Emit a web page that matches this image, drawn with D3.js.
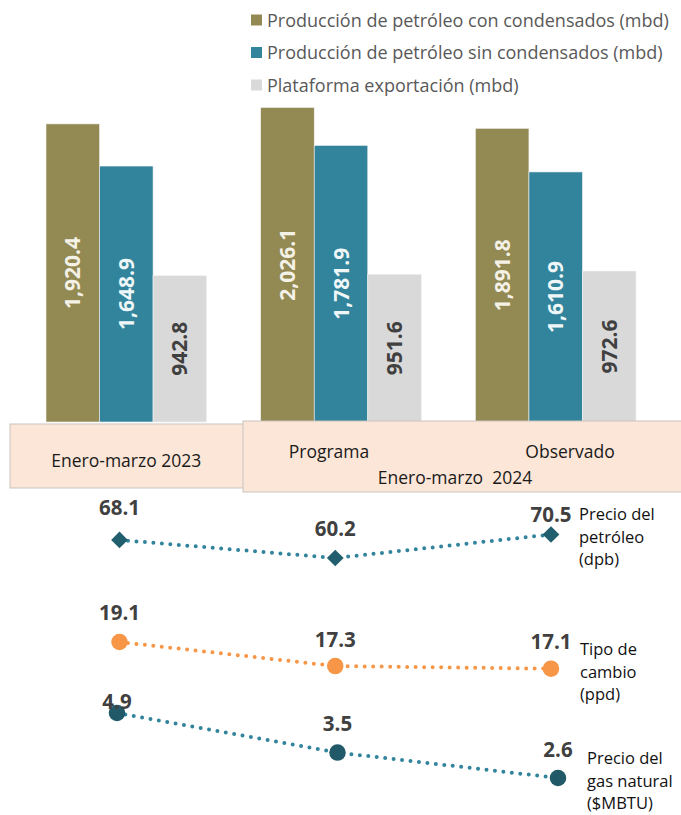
<!DOCTYPE html>
<html lang="es">
<head>
<meta charset="UTF-8">
<title>Producción de petróleo y precios</title>
<script src="https://d3js.org/d3.v7.min.js"></script>
<style>
  body { margin: 0; background: #fff; }
  svg { display: block; font-family: "Open Sans", "Liberation Sans", sans-serif; }
  .legend text { font-size: 18px; fill: #595959; }
  .bar-label { font-size: 21px; font-weight: bold; }
  .cat-label { font-size: 17.5px; fill: #1a1a1a; }
  .val-label { font-size: 20.5px; font-weight: bold; fill: #404040; }
  .series-label { font-size: 16.5px; fill: #111; }
</style>
</head>
<body>
<script>
// bar data
const periods = ["Enero-marzo 2023", "Programa", "Observado"];
const barSeries = ["Producción de petróleo con condensados (mbd)",
                   "Producción de petróleo sin condensados (mbd)",
                   "Plataforma exportación (mbd)"];
const conCondensados = [1920.4, 2026.1, 1891.8];
const sinCondensados = [1648.9, 1781.9, 1610.9];
const plataforma = [942.8, 951.6, 972.6];
const barColors = ["#938953", "#31849B", "#D9D9D9"];
const labelColors = ["#f4f1e6", "#eef6f8", "#404040"];

// line data
const precioPetroleo = [68.1, 60.2, 70.5];
const tipoCambio = [19.1, 17.3, 17.1];
const precioGas = [4.9, 3.5, 2.6];
const lineNames = [["Precio del", "petróleo", "(dpb)"],
                   ["Tipo de", "cambio", "(ppd)"],
                   ["Precio del", "gas natural", "($MBTU)"]];

const width = 681, height = 815;
const svg = d3.select("body").append("svg")
  .attr("width", width).attr("height", height);

// legend
const legend = svg.append("g").attr("class", "legend");
barSeries.forEach((s, i) => {
  const cy = 20 + i * 32.5;
  legend.append("rect").attr("x", 251).attr("y", cy - 5.5)
    .attr("width", 11).attr("height", 11).attr("fill", barColors[i]);
  legend.append("text").attr("x", 267).attr("y", cy + 6.5).text(s);
});

// scales for bars
const x0 = d3.scaleBand().domain(periods).range([46, 636])
  .paddingInner(0.252).paddingOuter(0);
const x1 = d3.scaleBand().domain(d3.range(3)).range([0, x0.bandwidth()]);
const y = d3.scaleLinear().domain([0, 2200]).range([422, 80.5]);

const barData = periods.map((p, i) => ({
  period: p,
  values: [conCondensados[i], sinCondensados[i], plataforma[i]]
}));

const groups = svg.append("g").selectAll("g")
  .data(barData).join("g")
  .attr("transform", d => `translate(${x0(d.period)},0)`);

groups.selectAll("rect")
  .data(d => d.values.map((v, k) => ({ v, k })))
  .join("rect")
  .attr("x", d => x1(d.k))
  .attr("y", d => y(d.v))
  .attr("width", x1.bandwidth())
  .attr("height", d => y(0) - y(d.v))
  .attr("fill", d => barColors[d.k])
  .attr("stroke", "#f2f2f2")
  .attr("stroke-width", 0.6);

groups.selectAll("text")
  .data(d => d.values.map((v, k) => ({ v, k })))
  .join("text")
  .attr("class", "bar-label")
  .attr("transform", d => `translate(${x1(d.k) + x1.bandwidth() / 2},${(y(d.v) + y(0)) / 2}) rotate(-90)`)
  .attr("text-anchor", "middle")
  .attr("dy", "0.36em")
  .attr("fill", d => labelColors[d.k])
  .text(d => d3.format(",.1f")(d.v));

// category boxes
const boxes = svg.append("g");
boxes.append("rect").attr("x", 10).attr("y", 424).attr("width", 235).attr("height", 64)
  .attr("fill", "#FCE6D8").attr("stroke", "#c9c4c0").attr("stroke-width", 1);
boxes.append("rect").attr("x", 243).attr("y", 421).attr("width", 445).attr("height", 71)
  .attr("fill", "#FCE6D8").attr("stroke", "#c9c4c0").attr("stroke-width", 1);

boxes.append("text").attr("class", "cat-label").attr("text-anchor", "middle")
  .attr("x", x0(periods[0]) + x0.bandwidth() / 2).attr("y", 467).text(periods[0]);
boxes.append("text").attr("class", "cat-label").attr("text-anchor", "middle")
  .attr("x", 329).attr("y", 458).text(periods[1]);
boxes.append("text").attr("class", "cat-label").attr("text-anchor", "middle")
  .attr("x", 570).attr("y", 458).text(periods[2]);
boxes.append("text").attr("class", "cat-label").attr("text-anchor", "middle")
  .attr("x", 455).attr("y", 484).attr("xml:space", "preserve").text("Enero-marzo  2024");

// line panels
const xl = d3.scalePoint().domain(periods).range([119.5, 551]);
const xg = d3.scalePoint().domain(periods).range([117, 558]);

const panels = [
  { values: precioPetroleo, x: xl, y: d3.scaleLinear().domain([60.2, 70.5]).range([558, 534.5]),
    line: "#31849B", marker: "#215E6E", shape: "diamond", labelDy: [-24.5, -22.5, -13],
    names: lineNames[0], nameX: 579, nameY: 520 },
  { values: tipoCambio, x: xl, y: d3.scaleLinear().domain([17.1, 19.1]).range([668.7, 642]),
    line: "#F79646", marker: "#F79646", shape: "circle", labelDy: [-22.5, -19, -20],
    names: lineNames[1], nameX: 580, nameY: 655 },
  { values: precioGas, x: xg, y: d3.scaleLinear().domain([2.6, 4.9]).range([778, 713]),
    line: "#31849B", marker: "#215968", shape: "circle", labelDy: [-4, -22, -21],
    names: lineNames[2], nameX: 587, nameY: 764 }
];

panels.forEach(pn => {
  const pts = pn.values.map((v, i) => [pn.x(periods[i]), pn.y(v), v, pn.labelDy[i]]);
  const g = svg.append("g");
  g.append("path")
    .attr("d", d3.line()(pts.map(p => [p[0], p[1]])))
    .attr("fill", "none")
    .attr("stroke", pn.line)
    .attr("stroke-width", 4)
    .attr("stroke-linecap", "round")
    .attr("stroke-dasharray", "0 8.5");
  const sym = d3.symbol()
    .type(pn.shape === "diamond" ? d3.symbolSquare : d3.symbolCircle)
    .size(pn.shape === "diamond" ? 140 : 215);
  g.selectAll("path.mk").data(pts).join("path")
    .attr("class", "mk")
    .attr("d", sym)
    .attr("transform", d => `translate(${d[0]},${d[1]})` + (pn.shape === "diamond" ? " rotate(45)" : ""))
    .attr("fill", pn.marker);
  g.selectAll("text.val-label").data(pts).join("text")
    .attr("class", "val-label")
    .attr("text-anchor", "middle")
    .attr("x", d => d[0])
    .attr("y", d => d[1] + d[3])
    .text(d => d3.format(".1f")(d[2]));
  const t = g.append("text").attr("class", "series-label");
  pn.names.forEach((n, i) => {
    t.append("tspan").attr("x", pn.nameX).attr("y", pn.nameY + i * 22.5).text(n);
  });
});
</script>
</body>
</html>
